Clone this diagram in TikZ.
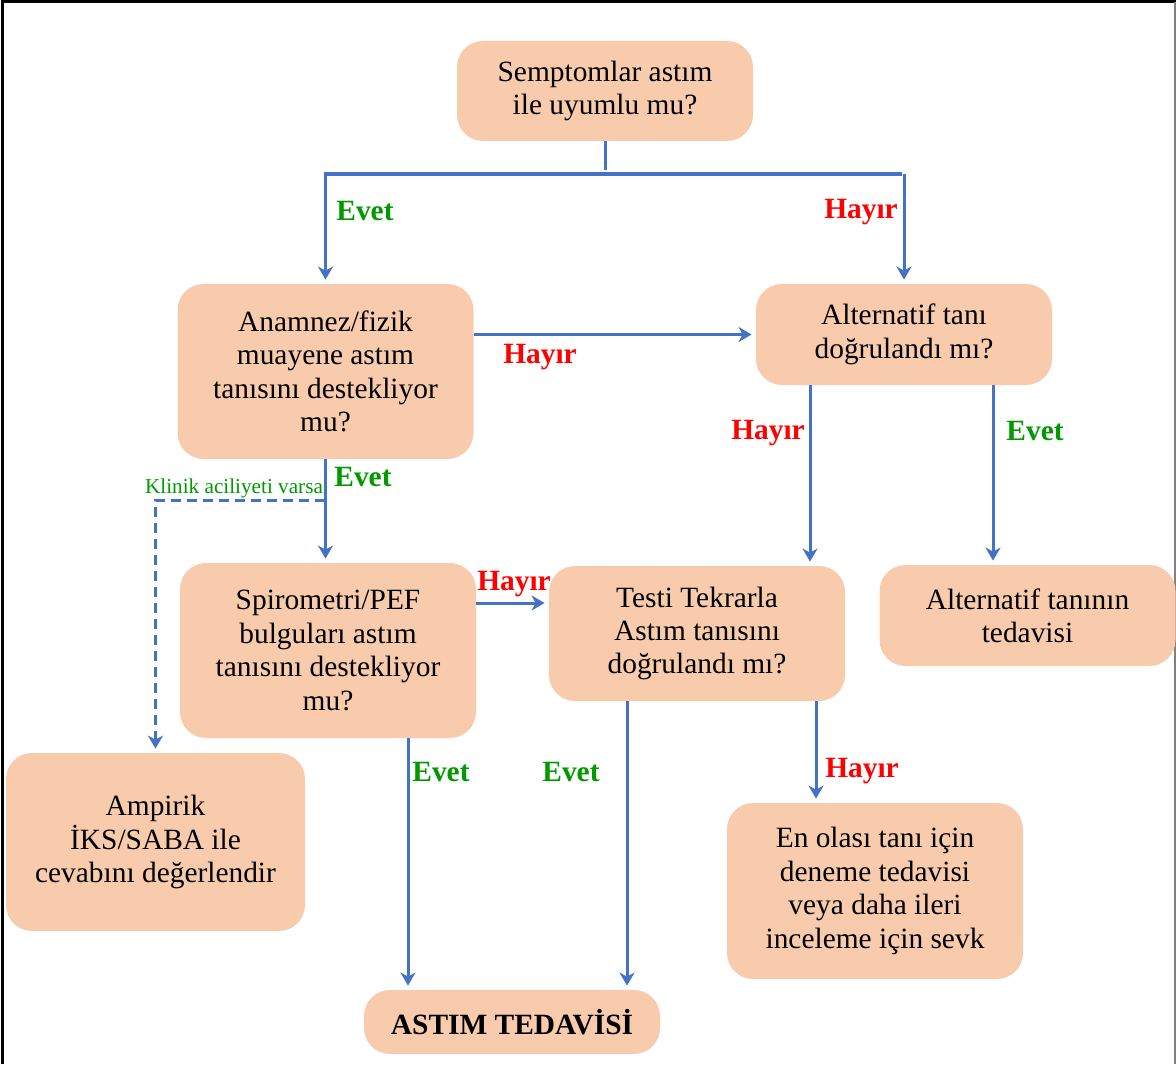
\documentclass[tikz,border=0pt]{standalone}
\usepackage{fontspec}
\setmainfont{LiberationSerif}[Extension=.ttf,UprightFont=*-Regular,BoldFont=*-Bold,ItalicFont=*-Italic,BoldItalicFont=*-BoldItalic]
\usetikzlibrary{arrows.meta,positioning}
\definecolor{peach}{RGB}{248,203,173}
\definecolor{flowblue}{RGB}{68,114,196}
\definecolor{yesgreen}{RGB}{0,153,0}
\definecolor{nored}{RGB}{255,0,0}

\begin{document}
\begin{tikzpicture}[x=0.5pt,y=-0.5pt,>={Stealth[length=6.5pt,width=7.5pt,inset=2pt]},
	box/.style={fill=peach,rounded corners=13pt,align=center,inner sep=2pt,minimum width=148pt,font=\rmfamily\fontsize{14.7}{16.7}\selectfont},
	flow/.style={flowblue,line width=1.5pt,shorten >=2pt},
	yes/.style={text=yesgreen,font=\rmfamily\fontsize{14.7}{16.7}\selectfont\bfseries},
	no/.style={text=nored,font=\rmfamily\fontsize{14.7}{16.7}\selectfont\bfseries}]

\useasboundingbox (0,0) rectangle (1176,1064);
\draw[line width=1.5pt] (2,1064) -- (2,2) -- (1176,2);
\draw[gray,line width=0.7pt] (1175,2) -- (1175,1064);

\node[box,minimum height=50pt]   (sym)    at (605,91)      {Semptomlar astım\\ile uyumlu mu?};
\node[box,minimum height=87.5pt] (anam)   at (325.5,371.5) {Anamnez/fizik\\muayene astım\\tanısını destekliyor\\mu?};
\node[box,minimum height=50.5pt] (alt)    at (904,334.5)   {Alternatif tanı\\doğrulandı mı?};
\node[box,minimum height=87.5pt] (spiro)  at (328,650.5)   {Spirometri/PEF\\bulguları astım\\tanısını destekliyor\\mu?};
\node[box,minimum height=67.5pt] (tekrar) at (697,633.5)   {Testi Tekrarla\\Astım tanısını\\doğrulandı mı?};
\node[box,minimum height=50.5pt] (alttx)  at (1027.5,615.5) {Alternatif tanının\\tedavisi};
\node[box,minimum height=89pt,minimum width=149.5pt] (emp) at (155.5,842) {Ampirik\\İKS/SABA ile\\cevabını değerlendir};
\node[box,minimum height=32pt]   (astim)  at (512,1022)    {\textbf{ASTIM TEDAVİSİ}};
\node[box,minimum height=88pt]   (sevk)   at (875,891)     {En olası tanı için\\deneme tedavisi\\veya daha ileri\\inceleme için sevk};

% split under the first question
\coordinate (split) at (608,174);
\coordinate (urgent) at (325,500);
\draw[flow] (sym.south) -- (sym.south |- split);
\draw[flow,line width=2pt] ([xshift=-0.75pt]anam.north |- split) -- ([xshift=0.75pt]alt.north |- split);
\draw[flow,->] (anam.north |- split) -- (anam.north);
\draw[flow,->] (alt.north |- split) -- (alt.north);

\draw[flow,->] (anam.east |- alt.west) -- (alt.west);
\draw[flow,->] (anam.south) -- (anam.south |- spiro.north);
\draw[flow,->,dash pattern=on 5pt off 3pt] (urgent) -| (emp.north);
\draw[flow,->] ([xshift=-47pt]alt.south) -- ([xshift=-47pt]alt.south |- tekrar.north);
\draw[flow,->] ([xshift=44.5pt]alt.south) -- ([xshift=44.5pt]alt.south |- alttx.north);
\draw[flow,->] ([yshift=23.75pt]spiro.east) -- ([yshift=23.75pt]spiro.east -| tekrar.west);
\draw[flow,->] ([xshift=40pt]spiro.south) -- ([xshift=40pt]spiro.south |- astim.north);
\draw[flow,->] ([xshift=-35pt]tekrar.south) -- ([xshift=-35pt]tekrar.south |- astim.north);
\draw[flow,->] ([xshift=59.5pt]tekrar.south) -- ([xshift=59.5pt]tekrar.south |- sevk.north);

% labels
\node[yes] (evet1)  at (365,211)  {Evet};
\node[no]  (hayir1) at (861,212)  {Hayır};
\node[no]  (hayir2) at (540,357)  {Hayır};
\node[yes] (evet2)  at (363,477)  {Evet};
\node[text=yesgreen,font=\rmfamily\fontsize{10.6}{12}\selectfont] (klinik) at (234,488) {Klinik aciliyeti varsa};
\node[no]  (hayir3) at (768,433)  {Hayır};
\node[yes] (evet3)  at (1035,431) {Evet};
\node[no]  (hayir4) at (514,584)  {Hayır};
\node[yes] (evet4)  at (441,772)  {Evet};
\node[yes] (evet5)  at (571,772)  {Evet};
\node[no]  (hayir5) at (862,771)  {Hayır};
\end{tikzpicture}
\end{document}
